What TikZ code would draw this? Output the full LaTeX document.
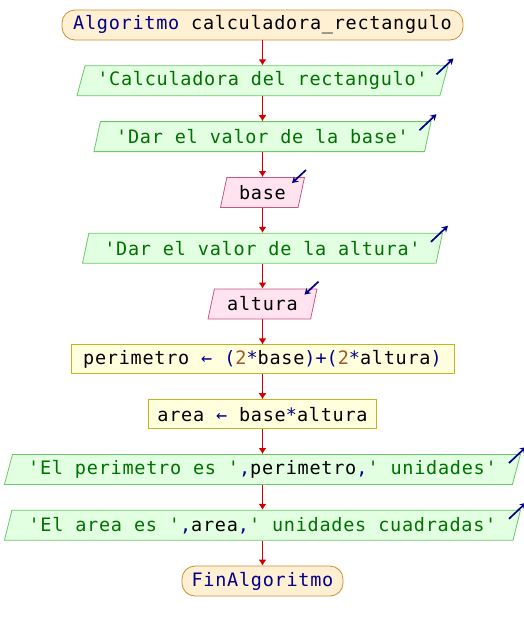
\documentclass[tikz,border=0pt]{standalone}
\usepackage{fontspec}
\setmonofont{DejaVu Sans Mono}[LetterSpace=4]
\usepackage{xcolor}
\usetikzlibrary{positioning}
\usetikzlibrary{shapes.geometric}
\usetikzlibrary{arrows.meta}
\tikzset{>=Latex}
\definecolor{termfill}{RGB}{255,240,212}
\definecolor{termdraw}{RGB}{204,142,52}
\definecolor{outfill}{RGB}{226,255,226}
\definecolor{outdraw}{RGB}{104,200,104}
\definecolor{infill}{RGB}{255,228,240}
\definecolor{indraw}{RGB}{200,84,132}
\definecolor{procfill}{RGB}{255,255,222}
\definecolor{procdraw}{RGB}{192,182,34}
\definecolor{strcolor}{RGB}{0,112,0}
\definecolor{kwcolor}{RGB}{0,0,136}
\definecolor{numcolor}{RGB}{164,84,44}
\definecolor{flowred}{RGB}{208,0,0}
\tikzstyle{chartbox}=[font=\ttfamily\fontsize{18.5}{22}\selectfont,inner sep=0pt,
  minimum height=30pt,line width=0.8pt]
\tikzstyle{terminal}=[chartbox,rounded corners=13pt,draw=termdraw,fill=termfill]
\tikzstyle{slanted}=[chartbox,trapezium,trapezium left angle=66,
  trapezium right angle=114,trapezium stretches body]
\tikzstyle{outbox}=[slanted,draw=outdraw,fill=outfill,text=strcolor]
\tikzstyle{inbox}=[slanted,draw=indraw,fill=infill]
\tikzstyle{procbox}=[chartbox,minimum height=29pt,draw=procdraw,fill=procfill]
\tikzstyle{flow}=[-{Latex[length=6pt,width=8pt]},flowred,line width=1.4pt]
\tikzstyle{icon}=[-{Stealth[length=6pt,width=7pt]},kwcolor,line width=1.7pt]
\newcommand\kw[1]{\textcolor{kwcolor}{#1}}
\newcommand\num[1]{\textcolor{numcolor}{#1}}
\newcommand\var[1]{\textcolor{black}{#1}}
% output icon: arrow leaving the top right corner
\newcommand\outicon[1]{
  \draw[icon] ([shift={(-12pt,-9pt)}]#1.top right corner)
    -- ([shift={(5pt,7pt)}]#1.top right corner);
}
% input icon: arrow coming into the top right corner
\newcommand\inicon[1]{
  \draw[icon] ([shift={(1pt,7pt)}]#1.top right corner)
    -- ([shift={(-13pt,-6pt)}]#1.top right corner);
}

\begin{document}
\begin{tikzpicture}[node distance=25pt]
  \useasboundingbox (0,0) rectangle (524pt,-625pt);

  % NODES
  \node[terminal,minimum width=401pt] (start) at (262.5pt,-25pt)
    {\kw{Algoritmo} calculadora\_rectangulo};
  \node[outbox,minimum width=371pt,below=of start] (msg) {'Calculadora del rectangulo'};
  \node[outbox,minimum width=337pt,below=of msg] (askbase) {'Dar el valor de la base'};
  \node[inbox,minimum width=84pt,below=of askbase] (readbase) {base};
  \node[outbox,minimum width=360pt,below=of readbase] (askalt) {'Dar el valor de la altura'};
  \node[inbox,minimum width=109pt,below=of askalt] (readalt) {altura};
  \node[procbox,minimum width=383pt,below=of readalt] (perim)
    {perimetro \kw{←} \kw{(}\num{2}\kw{*}base\kw{)}\kw{+}\kw{(}\num{2}\kw{*}altura\kw{)}};
  \node[procbox,minimum width=228pt,below=of perim] (area)
    {area \kw{←} base\kw{*}altura};
  \node[outbox,minimum width=516pt,below=of area] (showperim)
    {'El perimetro es '\kw{,}\var{perimetro}\kw{,}' unidades'};
  \node[outbox,minimum width=516pt,below=of showperim] (showarea)
    {'El area es '\kw{,}\var{area}\kw{,}' unidades cuadradas'};
  \node[terminal,minimum width=161pt,below=of showarea] (stop) {\kw{FinAlgoritmo}};

  % FLOW
  \foreach \a/\b in {start/msg,msg/askbase,askbase/readbase,readbase/askalt,
    askalt/readalt,readalt/perim,perim/area,area/showperim,showperim/showarea,
    showarea/stop}
    \draw[flow] (\a.south) -- (\b.north);

  % ICONS
  \outicon{msg}
  \outicon{askbase}
  \inicon{readbase}
  \outicon{askalt}
  \inicon{readalt}
  \outicon{showperim}
  \outicon{showarea}
\end{tikzpicture}
\end{document}
